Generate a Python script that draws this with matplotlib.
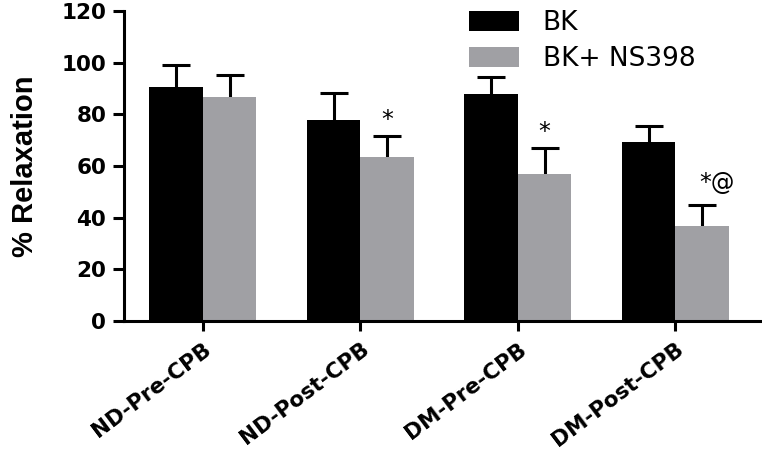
import numpy as np
import matplotlib
matplotlib.use("Agg")
import matplotlib.pyplot as plt

plt.rcParams["font.family"] = ["DejaVu Sans"]

categories = ["ND-Pre-CPB", "ND-Post-CPB", "DM-Pre-CPB", "DM-Post-CPB"]
bk_mean = [90.4, 77.8, 87.9, 69.4]
bk_err = [8.7, 10.3, 6.7, 6.1]
ns_mean = [86.8, 63.3, 56.9, 36.8]
ns_err = [8.4, 8.4, 10.2, 8.0]
marks = ["", "*", "*", "*@"]

black = "#000000"
gray = "#a0a0a4"

fig = plt.figure(figsize=(7.62, 4.59), dpi=100)
ax = fig.add_axes([0.163, 0.301, 0.837, 0.675])

x = np.arange(len(categories))
w = 0.34


def upper_err(xs, ys, errs):
    # only the upper whisker + cap, like Prism draws it
    eb = ax.errorbar(xs, ys, yerr=[np.zeros(len(errs)), errs], fmt="none",
                     ecolor="black", elinewidth=2.2, capsize=10, capthick=2.2,
                     zorder=1)
    eb[1][0].set_visible(False)


upper_err(x - w / 2, bk_mean, bk_err)
upper_err(x + w / 2, ns_mean, ns_err)
ax.bar(x - w / 2, bk_mean, w, color=black, label="BK", zorder=2)
ax.bar(x + w / 2, ns_mean, w, color=gray, label="BK+ NS398", zorder=2)

for i, m in enumerate(marks):
    if not m:
        continue
    top = ns_mean[i] + ns_err[i]
    if m == "*":
        ax.text(x[i] + w / 2, top + 6, m, ha="center", va="center", fontsize=17)
    else:
        ax.text(x[i] + w / 2 - 0.02, top + 8.5, m, ha="left", va="center", fontsize=17)

ax.set_xlim(-0.5, 3.55)
ax.set_ylim(0, 120)
ax.set_yticks(range(0, 121, 20))
ax.set_xticks(x)
ax.set_xticklabels(categories, rotation=37, ha="right", va="top",
                   rotation_mode="anchor", fontsize=15.5, fontweight="bold")
for lbl in ax.get_yticklabels():
    lbl.set_fontweight("bold")
    lbl.set_fontsize(15.5)
ax.set_ylabel("% Relaxation", fontsize=21, fontweight="bold",
              family="Liberation Sans", labelpad=16)

for s in ["top", "right"]:
    ax.spines[s].set_visible(False)
for s in ["left", "bottom"]:
    ax.spines[s].set_linewidth(2.2)
ax.tick_params(axis="y", width=2.2, length=8, pad=5)
ax.tick_params(axis="x", width=2.2, length=7, pad=6)

ax.legend(loc="upper left", bbox_to_anchor=(0.503, 1.08), frameon=False,
          fontsize=19, handlelength=1.9, handleheight=0.8, labelspacing=0.38,
          handletextpad=0.9)

fig.savefig("out.png", dpi=100)
